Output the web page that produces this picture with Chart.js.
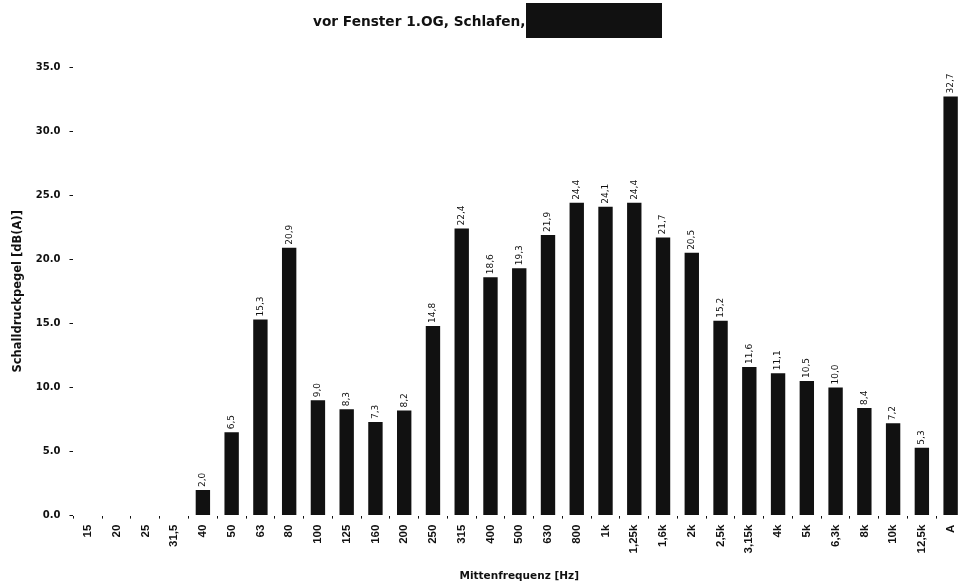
<!DOCTYPE html>
<html>
<head>
<meta charset="utf-8">
<script src="https://cdn.jsdelivr.net/npm/chart.js@4"></script>
<style>
  html, body { margin: 0; padding: 0; background: #fff; }
  #wrap { position: relative; width: 965px; height: 586px; }
  #title {
    position: absolute; left: 313px; top: 3px; height: 35px;
    display: flex; align-items: center;
    font: bold 13.7px "DejaVu Sans", sans-serif; color: #111; white-space: nowrap;
  }
  #title .redact { display: inline-block; width: 136px; height: 35px; background: #111; }
</style>
</head>
<body>
<div id="wrap">
  <canvas id="chart" width="965" height="586"></canvas>
  <div id="title"><span>vor Fenster 1.OG, Schlafen,</span><span class="redact"></span></div>
</div>
<script>
// Terzband-Pegel, Messpunkt vor Fenster
const bands = ['15','20','25','31,5','40','50','63','80','100','125','160','200','250','315','400',
  '500','630','800','1k','1,25k','1,6k','2k','2,5k','3,15k','4k','5k','6,3k','8k','10k','12,5k','A'];
const levels = [0, 0, 0, 0, 2.0, 6.5, 15.3, 20.9, 9.0, 8.3, 7.3, 8.2, 14.8, 22.4, 18.6,
  19.3, 21.9, 24.4, 24.1, 24.4, 21.7, 20.5, 15.2, 11.6, 11.1, 10.5, 10.0, 8.4, 7.2, 5.3, 32.7];
const yTicks = [0, 5, 10, 15, 20, 25, 30, 35];

const FONT = '"Liberation Sans", Arial, sans-serif';
const WIDE = '"DejaVu Sans", sans-serif';

// Werte senkrecht ueber die Balken schreiben
const barLabels = {
  id: 'barLabels',
  afterDatasetsDraw(chart) {
    const ctx = chart.ctx;
    const meta = chart.getDatasetMeta(0);
    ctx.save();
    ctx.font = '9px ' + WIDE;
    ctx.fillStyle = '#111';
    ctx.textAlign = 'left';
    ctx.textBaseline = 'middle';
    meta.data.forEach((bar, i) => {
      const v = levels[i];
      if (!v) return;
      ctx.save();
      ctx.translate(bar.x, bar.y - 3);
      ctx.rotate(-Math.PI / 2);
      ctx.fillText(v.toFixed(1).replace('.', ','), 0, 0);
      ctx.restore();
    });
    ctx.restore();
  }
};

new Chart(document.getElementById('chart'), {
  type: 'bar',
  data: {
    labels: bands,
    datasets: [{
      data: levels,
      backgroundColor: '#111',
      barPercentage: 0.5,
      categoryPercentage: 1.0
    }]
  },
  options: {
    responsive: false,
    animation: false,
    layout: { padding: { top: 67, right: -2, left: 7, bottom: 3 } },
    plugins: { legend: { display: false }, tooltip: { enabled: false } },
    scales: {
      x: {
        offset: true,
        border: { display: false },
        afterFit(scale) { scale.paddingRight = 0; },
        grid: { offset: true, drawOnChartArea: false, tickLength: 3, color: '#111', lineWidth: 1 },
        ticks: { minRotation: 90, maxRotation: 90, autoSkip: false, padding: 6, color: '#111',
                 font: { family: FONT, size: 11.5, weight: 'bold' } },
        title: { display: true, text: 'Mittenfrequenz [Hz]', color: '#111', padding: { top: 11, bottom: 0 },
                 font: { family: WIDE, size: 10.5, weight: 'bold' } }
      },
      y: {
        min: 0, max: 35,
        border: { display: false },
        afterBuildTicks(axis) { axis.ticks = yTicks.map(v => ({ value: v })); },
        grid: { drawOnChartArea: false, tickLength: 4, color: '#111', lineWidth: 1 },
        ticks: { padding: 9, color: '#111', callback: v => Number(v).toFixed(1),
                 font: { family: WIDE, size: 10, weight: 'bold' } },
        title: { display: true, text: 'Schalldruckpegel [dB(A)]', color: '#111', padding: { top: 4, bottom: 2 },
                 font: { family: WIDE, size: 11.5, weight: 'bold' } }
      }
    }
  },
  plugins: [barLabels]
});
</script>
</body>
</html>
